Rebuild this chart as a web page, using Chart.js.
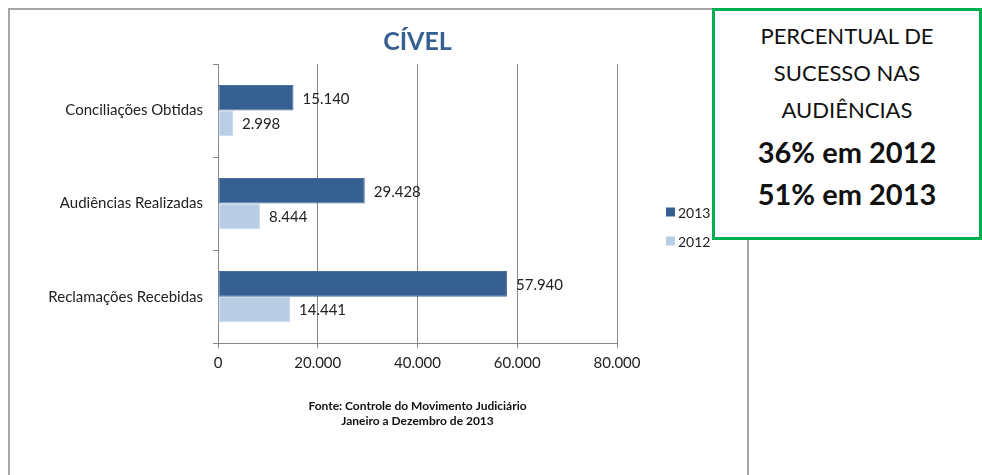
<!DOCTYPE html>
<html>
<head>
<meta charset="utf-8">
<script src="https://cdn.jsdelivr.net/npm/chart.js@4"></script>
<style>
  body { margin: 0; width: 982px; height: 475px; overflow: hidden; background: #fff; font-family: Lato, sans-serif; }
  #frame { position: absolute; left: 8px; top: 8px; width: 741px; height: 520px; border: 2px solid #a6a6a6; box-sizing: border-box; }
  #chartBox { position: absolute; left: 0; top: 0; width: 748px; height: 475px; }
  #note {
    position: absolute; left: 712px; top: 8px; width: 270px; height: 232px;
    border: 3px solid #00b050; box-sizing: border-box; background: #fff;
    text-align: center; color: #111;
  }
  #note .l { font-size: 22px; height: 37px; line-height: 37px; }
  #note .b { font-size: 29px; font-weight: bold; height: 42px; line-height: 42px; }
</style>
</head>
<body>
<div id="frame"></div>
<div id="chartBox"><canvas id="myChart"></canvas></div>
<div id="note">
  <div style="height:6px"></div>
  <div class="l">PERCENTUAL DE</div>
  <div class="l">SUCESSO NAS</div>
  <div class="l">AUDIÊNCIAS</div>
  <div class="b" style="margin-top:3px">36% em 2012</div>
  <div class="b">51% em 2013</div>
</div>
<script>
const categories = ["Conciliações Obtidas", "Audiências Realizadas", "Reclamações Recebidas"];
const years = ["2013", "2012"];
const values2013 = [15140, 29428, 57940];
const values2012 = [2998, 8444, 14441];
const xTicks = [0, 20000, 40000, 60000, 80000];

const dark = "#376092";
const light = "#b9cde5";
const gridColor = "#868686";

const fmt = (v) => String(v).replace(/\B(?=(\d{3})+(?!\d))/g, ".");

// value labels at the end of each bar
const barLabels = {
  id: "barLabels",
  afterDatasetsDraw(chart) {
    const ctx = chart.ctx;
    ctx.save();
    ctx.font = "15px Lato";
    ctx.fillStyle = "#222";
    ctx.textBaseline = "middle";
    chart.data.datasets.forEach((ds, i) => {
      chart.getDatasetMeta(i).data.forEach((bar, j) => {
        ctx.fillText(fmt(ds.data[j]), bar.x + 9, bar.y + 1);
      });
    });
    ctx.restore();
  },
};

// legend to the right of the plot
const sideLegend = {
  id: "sideLegend",
  afterDraw(chart) {
    const ctx = chart.ctx;
    const x = chart.chartArea.right + 49;
    let y = 212;
    ctx.save();
    ctx.font = "14px Lato";
    ctx.textBaseline = "middle";
    chart.data.datasets.forEach((ds) => {
      ctx.fillStyle = ds.backgroundColor;
      ctx.fillRect(x, y - 4.5, 9, 9);
      ctx.fillStyle = "#222";
      ctx.fillText(ds.label, x + 12, y + 1);
      y += 29;
    });
    ctx.restore();
  },
};

const data = {
  labels: categories,
  datasets: [
    { label: years[0], data: values2013, backgroundColor: dark, borderColor: "#4a70a0", borderWidth: 1, borderSkipped: false },
    { label: years[1], data: values2012, backgroundColor: light, borderColor: "#c8d8ec", borderWidth: 1, borderSkipped: false },
  ],
};

const config = {
  type: "bar",
  data,
  options: {
    indexAxis: "y",
    responsive: true,
    maintainAspectRatio: false,
    animation: false,
    layout: { padding: { left: 0, right: 131, top: 0, bottom: 47 } },
    datasets: { bar: { categoryPercentage: 0.55, barPercentage: 1.0 } },
    plugins: {
      legend: { display: false },
      tooltip: { enabled: false },
      title: {
        display: true,
        text: "CÍVEL",
        color: dark,
        fullSize: false,
        font: { family: "Lato", size: 25, weight: "bold" },
        padding: { top: 27, bottom: 7 },
      },
      subtitle: {
        display: true,
        position: "bottom",
        fullSize: false,
        text: ["Fonte: Controle do Movimento Judiciário", "Janeiro a Dezembro de 2013"],
        color: "#111",
        font: { family: "Lato", size: 12, weight: "bold", lineHeight: 1.2 },
        padding: { top: 12, bottom: 0 },
      },
    },
    scales: {
      x: {
        min: 0,
        max: 80000,
        afterBuildTicks: (scale) => { scale.ticks = xTicks.map((v) => ({ value: v })); },
        afterFit: (scale) => { scale.height = 44; },
        ticks: {
          callback: (v) => fmt(v),
          color: "#222",
          font: { family: "Lato", size: 15 },
          padding: 6,
          maxRotation: 0,
        },
        grid: { color: gridColor, tickLength: 5, drawOnChartArea: true },
        border: { color: gridColor },
      },
      y: {
        afterFit: (scale) => { scale.width = 218; },
        ticks: {
          color: "#222",
          font: { family: "Lato", size: 15 },
          padding: 10,
        },
        grid: { color: gridColor, tickLength: 5, drawOnChartArea: false, offset: true },
        border: { color: gridColor },
      },
    },
  },
  plugins: [barLabels, sideLegend],
};

const myChart = new Chart(document.getElementById("myChart"), config);
</script>
</body>
</html>
